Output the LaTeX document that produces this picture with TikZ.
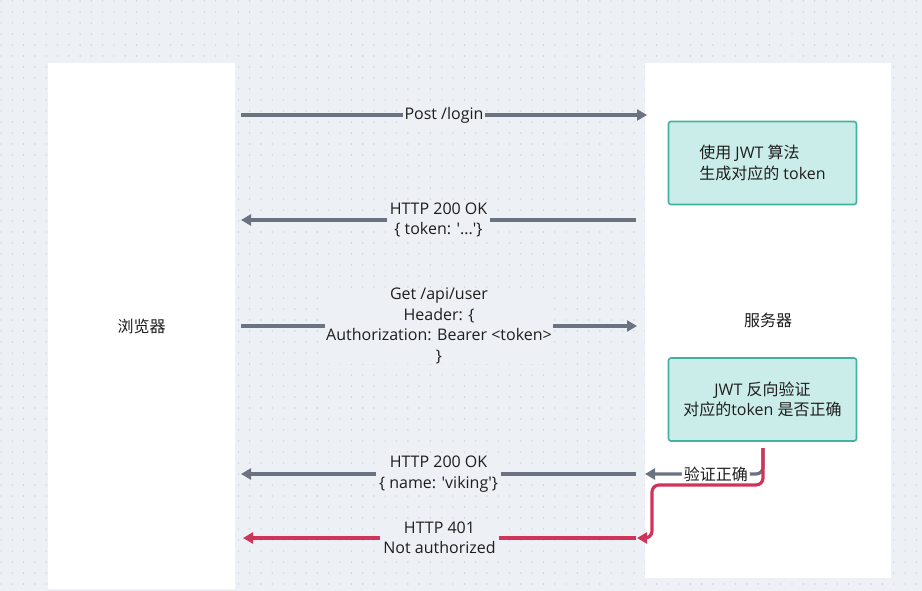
\documentclass[tikz,border=0pt]{standalone}
\usepackage{fontspec}
\setmainfont{Open Sans}[Ligatures=TeXOff]
\newfontfamily\cjk{Noto Sans CJK SC}
\usetikzlibrary{arrows.meta}
\definecolor{bg}{HTML}{EDF0F5}
\definecolor{dotc}{HTML}{C3C9D3}
\definecolor{lineg}{HTML}{6C7380}
\definecolor{redc}{HTML}{D1345B}
\definecolor{boxfill}{HTML}{CBEDEA}
\definecolor{boxdraw}{HTML}{45B09F}
\definecolor{txt}{HTML}{1E1E1E}
\begin{document}
\begin{tikzpicture}[x=1pt,y=-1pt,
  every node/.style={text=txt,font=\fontsize{16}{20.5}\selectfont},
  panel/.style={rectangle,fill=white,inner sep=0pt},
  algbox/.style={rectangle,rounded corners=2.5pt,fill=boxfill,draw=boxdraw,line width=1.6pt,minimum width=188pt,minimum height=83pt,inner sep=0pt},
  msg/.style={line width=3.2pt,draw=lineg,-{Triangle[length=10pt,width=11pt]}},
  errmsg/.style={msg,draw=redc},
  lbl/.style={fill=bg,inner xsep=3pt,inner ysep=0pt,align=center},
  lblw/.style={fill=white,inner xsep=2pt,inner ysep=0pt}
]
\useasboundingbox (0,0) rectangle (922,591);
\fill[bg] (0,0) rectangle (922,591);
\foreach \i in {0,...,81}{
  \foreach \j in {0,...,53}{
    \fill[dotc] ({1+\i*11.3},{1+\j*11}) circle (0.7pt);
  }
}
% panels
\node[panel,minimum width=187pt,minimum height=526pt] (browser) at (141.5,326) {\cjk 浏览器};
\node[panel,minimum width=246pt,minimum height=515pt] (server) at (768,320.5) {\cjk 服务器};
% algorithm boxes
\node[algbox,align=left] (box1) at (762.5,163) {{\cjk 使用} JWT {\cjk 算法}\\{\cjk 生成对应的} token};
\node[algbox,align=center] (box2) at (762.5,399.5) {JWT {\cjk 反向验证}\\{\cjk 对应的}token {\cjk 是否正确}};
% coordinates for message ends
\coordinate (a1s) at (241,115);  \coordinate (a1e) at (647,115);
\coordinate (a2s) at (636,220);  \coordinate (a2e) at (241,220);
\coordinate (a3s) at (241,326);  \coordinate (a3e) at (637,326);
\coordinate (a4s) at (636,474);  \coordinate (a4e) at (241,474);
\coordinate (a5s) at (636,538);  \coordinate (a5e) at (243,538);
\coordinate (b2out) at (763,448);
\coordinate (okend) at (645,474);
\coordinate (errend) at (637,538);
% messages
\draw[msg] (a1s) -- node[lbl,inner xsep=2pt]{Post /login} (a1e);
\draw[msg] (a2s) -- node[lbl]{HTTP 200 OK\\\{ token: '...'\}} (a2e);
\draw[msg] (a3s) -- node[lbl,inner xsep=1pt]{Get /api/user\\Header: \{\\Authorization: Bearer <token>\\\}} (a3e);
\draw[msg] (a4s) -- node[lbl]{HTTP 200 OK\\\{ name: 'viking'\}} (a4e);
\draw[errmsg] (a5s) -- node[lbl]{HTTP 401\\Not authorized} (a5e);
% validation outcomes
\draw[msg,rounded corners=7pt] (b2out) |- node[pos=0.7,lblw]{\cjk 验证正确} (okend);
\draw[errmsg,rounded corners=7pt] (b2out) -- (763,485) -- (652,485) -- (652,538) -- (errend);
\end{tikzpicture}
\end{document}
